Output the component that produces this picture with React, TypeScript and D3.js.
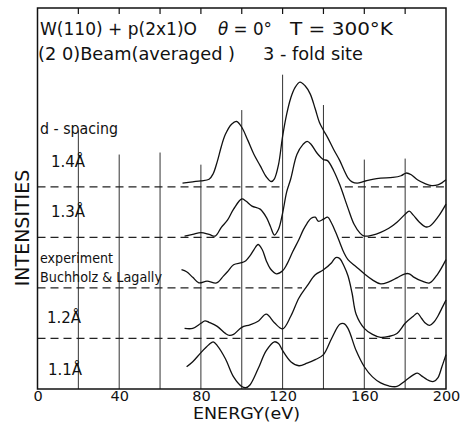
import { useRef, useEffect } from 'react';
import * as d3 from 'd3';

type Pt = [number, number];

// energy (eV), intensity above the curve's own baseline (arb. units)
const spacing11: Pt[] = [
  [73, 22], [76, 27], [80, 36], [84, 44], [86, 46.7], [88, 43], [92, 30], [96, 12],
  [100, 2.5], [102, 1.3], [104, 4], [108, 20], [112, 38], [116, 46.7], [118, 45],
  [120, 38], [124, 27], [128, 23], [132, 25.5], [136, 29], [140, 34], [144, 50],
  [148, 64], [150, 64.7], [152, 60], [156, 38], [160, 22], [164, 12], [168, 6],
  [172, 3], [176, 2.5], [180, 8], [184, 14], [186, 15.7], [188, 13], [192, 8],
  [194, 7.5], [196, 11], [198, 22], [200, 34],
];

const spacing12: Pt[] = [
  [72, 10], [76, 10], [80, 15], [82, 17.5], [84, 16], [88, 12], [92, 5], [94, 3],
  [96, 4], [100, 11], [104, 13.5], [108, 17], [112, 24], [116, 15.5], [120, 9.5],
  [124, 22], [128, 40], [132, 52], [136, 63], [140, 68], [144, 75], [146, 80],
  [148, 79], [150, 72], [152, 62], [154, 45], [156, 24], [160, 10], [164, 4],
  [168, 1], [172, 2], [176, 5], [180, 15], [184, 22], [186, 25], [188, 20],
  [190, 15], [192, 13], [194, 16], [196, 22], [198, 30], [200, 38],
];

const experiment: Pt[] = [
  [70.5, 18], [73, 16], [76, 10.5], [79, 5], [83, 6.7], [87.7, 5], [91, 11.7],
  [93, 16], [96, 23], [100, 25], [102, 27], [104, 31.7], [106, 38], [108, 43],
  [110, 38], [112, 27], [114, 19], [117, 14], [120, 17], [122, 23], [125, 36],
  [128, 48], [130, 57], [132, 64], [134, 69], [136, 70], [137.5, 66], [140, 68],
  [142, 70], [144, 64], [146, 55], [148, 45], [150, 35], [152, 28], [156, 21],
  [160, 14], [164, 8], [168, 4], [172, 6], [176, 10], [180, 14], [182, 14],
  [184, 11], [188, 7], [192, 5], [196, 14], [200, 28],
];

const spacing13: Pt[] = [
  [72, 1.3], [76, 3], [80, 4.7], [84, 3], [87, 1.3], [90, 10], [93, 17], [96, 28],
  [100, 38], [102, 36], [105, 31], [109, 28], [112, 20], [114, 11], [116, 2.3],
  [118, 8], [120, 24], [122, 45], [124, 58], [127, 82], [130, 92], [132, 95],
  [134, 92], [137, 83], [140, 77], [142, 76], [145, 66], [148, 52], [152, 29],
  [155, 13], [158, 4], [160, 1.3], [164, 2.3], [168, 5], [172, 9], [176, 15],
  [180, 23], [182, 26], [184, 22], [187, 15], [190, 10.5], [192, 11], [196, 20],
  [200, 33],
];

const spacing14: Pt[] = [
  [71, 3.7], [76, 5], [80, 6], [84, 7.5], [86, 13], [88, 25], [90, 40], [92, 52],
  [95, 62], [97.5, 64.7], [100, 59], [103, 46], [106, 32], [109, 21], [112, 10],
  [114.5, 5.3], [116, 8], [118, 22], [120, 50], [122, 72], [124, 88], [126, 98],
  [128.5, 103.7], [131, 100], [133.5, 92], [136, 77], [138, 64], [140, 56],
  [142, 49], [145, 37], [148, 26], [150, 17], [152, 9], [154, 5], [156.5, 3.7],
  [160, 5.5], [164, 7.5], [168, 8.7], [174, 9.3], [178, 11], [180.5, 13.7],
  [183, 12], [186, 7], [190, 3], [193, 1.3], [196, 2], [198, 4], [200, 7],
];

const seriesNames = ['1.1Å', '1.2Å', 'experiment', '1.3Å', '1.4Å'];
const seriesOffsets = [0, 50, 100, 150, 200];
const seriesData = [spacing11, spacing12, experiment, spacing13, spacing14];

const energyTicks = [0, 40, 80, 120, 160, 200];
const topTicks = [20, 40, 60, 80, 100, 120, 140, 160, 180];
const gridEnergies = [20, 40, 60, 80, 100, 120, 140, 160, 180];
const gridTops = [256, 232, 234, 222, 276, 311, 281, 227, 228];

const FONT = '"DejaVu Sans", sans-serif';

const valueAt = (pts: Pt[], e: number) => {
  if (e < pts[0][0] || e > pts[pts.length - 1][0]) return -Infinity;
  for (let i = 1; i < pts.length; i++) {
    if (e <= pts[i][0]) {
      const [e0, v0] = pts[i - 1];
      const [e1, v1] = pts[i];
      return v0 + ((v1 - v0) * (e - e0)) / (e1 - e0);
    }
  }
  return pts[pts.length - 1][1];
};

// where the curve below rises over a baseline, the dashes are left out
const dashSegments = (pts: Pt[], level: number) => {
  const gaps: [number, number][] = [];
  let start: number | null = null;
  for (let e = 60; e <= 200; e += 0.25) {
    const above = valueAt(pts, e) > level;
    if (above && start === null) start = e;
    if (!above && start !== null) {
      gaps.push([start - 2, e + 2]);
      start = null;
    }
  }
  if (start !== null) gaps.push([start - 2, 200]);
  const segs: [number, number][] = [];
  let from = 0;
  gaps.forEach(([a, b]) => {
    if (a > from) segs.push([from, a]);
    from = Math.max(from, b);
  });
  if (from < 200) segs.push([from, 200]);
  return segs;
};

export default function App() {
  const ref = useRef<SVGSVGElement>(null);

  useEffect(() => {
    if (!ref.current) return;
    const svg = d3.select(ref.current);
    svg.selectAll('*').remove();

    const x = d3.scaleLinear().domain([0, 200]).range([37.5, 446]);
    const y = d3.scaleLinear().domain([0, 377]).range([389, 8]);

    // vertical grid lines, each with its own height
    svg
      .append('g')
      .selectAll('line')
      .data(gridEnergies)
      .enter()
      .append('line')
      .attr('x1', (d) => x(d))
      .attr('x2', (d) => x(d))
      .attr('y1', (d, i) => y(gridTops[i]))
      .attr('y2', y(0))
      .attr('stroke', '#333')
      .attr('stroke-width', 1);

    // dashed baselines
    const dashes = svg.append('g');
    seriesOffsets.slice(1).forEach((off, k) => {
      dashSegments(seriesData[k], off - seriesOffsets[k]).forEach(([a, b]) => {
        dashes
          .append('line')
          .attr('x1', x(a))
          .attr('x2', x(b))
          .attr('y1', y(off))
          .attr('y2', y(off))
          .attr('stroke', '#222')
          .attr('stroke-width', 1.2)
          .attr('stroke-dasharray', '8 5');
      });
    });

    // frame
    svg
      .append('rect')
      .attr('x', x(0))
      .attr('y', y(377))
      .attr('width', x(200) - x(0))
      .attr('height', y(0) - y(377))
      .attr('fill', 'none')
      .attr('stroke', '#111')
      .attr('stroke-width', 1.5);

    svg
      .append('g')
      .selectAll('line')
      .data(topTicks)
      .enter()
      .append('line')
      .attr('x1', (d) => x(d))
      .attr('x2', (d) => x(d))
      .attr('y1', y(377))
      .attr('y2', y(377) + 6)
      .attr('stroke', '#111')
      .attr('stroke-width', 1.2);

    // curves
    const line = d3
      .line<Pt>()
      .curve(d3.curveCatmullRom.alpha(0.5));
    seriesData.forEach((pts, i) => {
      line.x((d) => x(d[0])).y((d) => y(d[1] + seriesOffsets[i]));
      svg
        .append('path')
        .attr('d', line(pts))
        .attr('fill', 'none')
        .attr('stroke', '#111')
        .attr('stroke-width', 1.3);
    });

    // bottom axis labels
    const axis = svg
      .append('g')
      .attr('transform', `translate(0,${y(0)})`)
      .call(d3.axisBottom(x).tickValues(energyTicks).tickSize(0).tickPadding(2));
    axis.select('.domain').remove();
    axis
      .selectAll('text')
      .attr('font-family', FONT)
      .attr('font-size', 14.5)
      .attr('fill', '#111');

    const text = (
      tx: number,
      ty: number,
      s: string,
      size: number,
      len?: number
    ) => {
      const t = svg
        .append('text')
        .attr('x', tx)
        .attr('y', ty)
        .attr('font-family', FONT)
        .attr('font-size', size)
        .attr('fill', '#111')
        .text(s);
      if (len) t.attr('textLength', len).attr('lengthAdjust', 'spacingAndGlyphs');
      return t;
    };

    text(40, 34.5, 'W(110) + p(2x1)O', 17, 157);
    const th = text(218, 34.5, '', 17, 54);
    th.append('tspan').attr('font-style', 'italic').text('θ');
    th.append('tspan').text(' = 0°');
    text(290, 34.5, 'T = 300°K', 17, 103);
    text(38, 60, '(2 0)Beam(averaged )', 17, 197);
    text(263, 60, '3 - fold site', 17, 100);

    text(40, 134, 'd - spacing', 15, 78);
    const labelX = [48, 47, 0, 51, 51];
    const labelDy = [14, 15, 0, 20, 20];
    seriesNames.forEach((name, i) => {
      if (name === 'experiment') return;
      text(labelX[i], y(seriesOffsets[i]) - labelDy[i], name, 15);
    });
    text(40, 263, 'experiment', 13.5, 73);
    text(40, 281.5, 'Buchholz & Lagally', 13.5, 122);

    text(193, 418.5, 'ENERGY(eV)', 15, 107);

    svg
      .append('text')
      .attr('transform', 'translate(29,228) rotate(-90)')
      .attr('text-anchor', 'middle')
      .attr('font-family', FONT)
      .attr('font-size', 19)
      .attr('fill', '#111')
      .text('INTENSITIES');
  }, []);

  return (
    <svg
      ref={ref}
      width={463}
      height={423}
      style={{ position: 'absolute', left: 0, top: 0, background: '#fff' }}
    />
  );
}
